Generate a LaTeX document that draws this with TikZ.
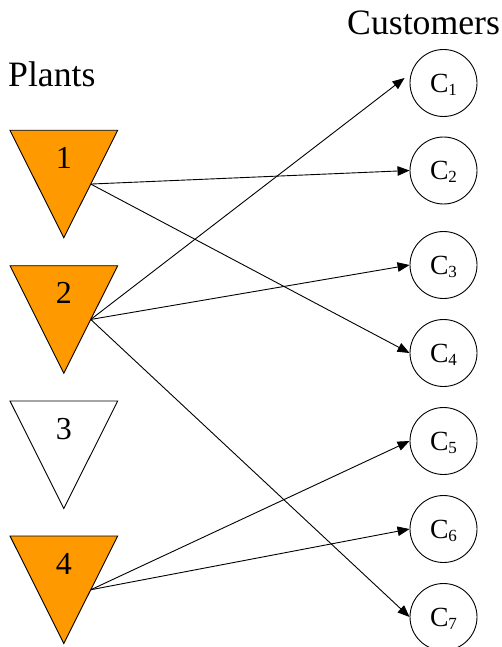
\documentclass[tikz,border=0pt]{standalone}
\usepackage{fontspec}
\setmainfont{Liberation Serif}
\usetikzlibrary{arrows.meta,calc}
\definecolor{plantorange}{RGB}{255,153,0}
\tikzset{
  plant/.style={draw=black, line width=0.9pt, line join=miter},
  used/.style={plant, fill=plantorange},
  idle/.style={plant, fill=white},
  plantlabel/.style={anchor=base, inner sep=0pt, font=\fontsize{32}{32}\selectfont},
  customer/.style={circle, draw=black, line width=0.9pt, minimum size=67pt,
    inner sep=0pt, text depth=0pt, font=\fontsize{27.7}{28}\selectfont},
  heading/.style={anchor=base west, inner sep=0pt, font=\fontsize{35.7}{36}\selectfont},
  ship/.style={line width=0.9pt, -{Triangle[length=12pt,width=9.5pt]}},
}
\newcommand\custlabel[1]{C\raisebox{-3.3pt}{\fontsize{17}{17}\selectfont #1}}

\begin{document}
\begin{tikzpicture}[x=1pt,y=-1pt]
\useasboundingbox (0,0) rectangle (501,647);

% headings
\node[heading] (plants) at (8,86.7) {Plants};
\node[heading] (customers) at (347,35) {Customers};

% plants: downward triangles, with the outgoing point on the right edge
\foreach \i/\t/\s in {1/130.3/used,2/265.7/used,3/401/idle,4/536/used}{
  \path[\s] (10,\t) -- (117.7,\t) -- (63.8,\t+107.5) -- cycle;
  \node[plantlabel] (P\i) at (63.8,\t+38) {\i};
  \coordinate (P\i out) at (90.75,\t+53.75);
}

% customers
\foreach \i/\y in {1/83,2/170.5,3/265,4/353,5/441,6/529,7/617}{
  \node[customer] (C\i) at (443.5,\y) {\custlabel{\i}};
}

% shipments
\draw[ship] (P1out) -- (C2.west);
\draw[ship] (P1out) -- (C4.west);
\draw[ship] (P2out) -- ($(C1.west)+(-5,-5)$);
\draw[ship] (P2out) -- (C3.west);
\draw[ship] (P2out) -- (C7.west);
\draw[ship] (P4out) -- (C5.west);
\draw[ship] (P4out) -- (C6.west);
\end{tikzpicture}
\end{document}
